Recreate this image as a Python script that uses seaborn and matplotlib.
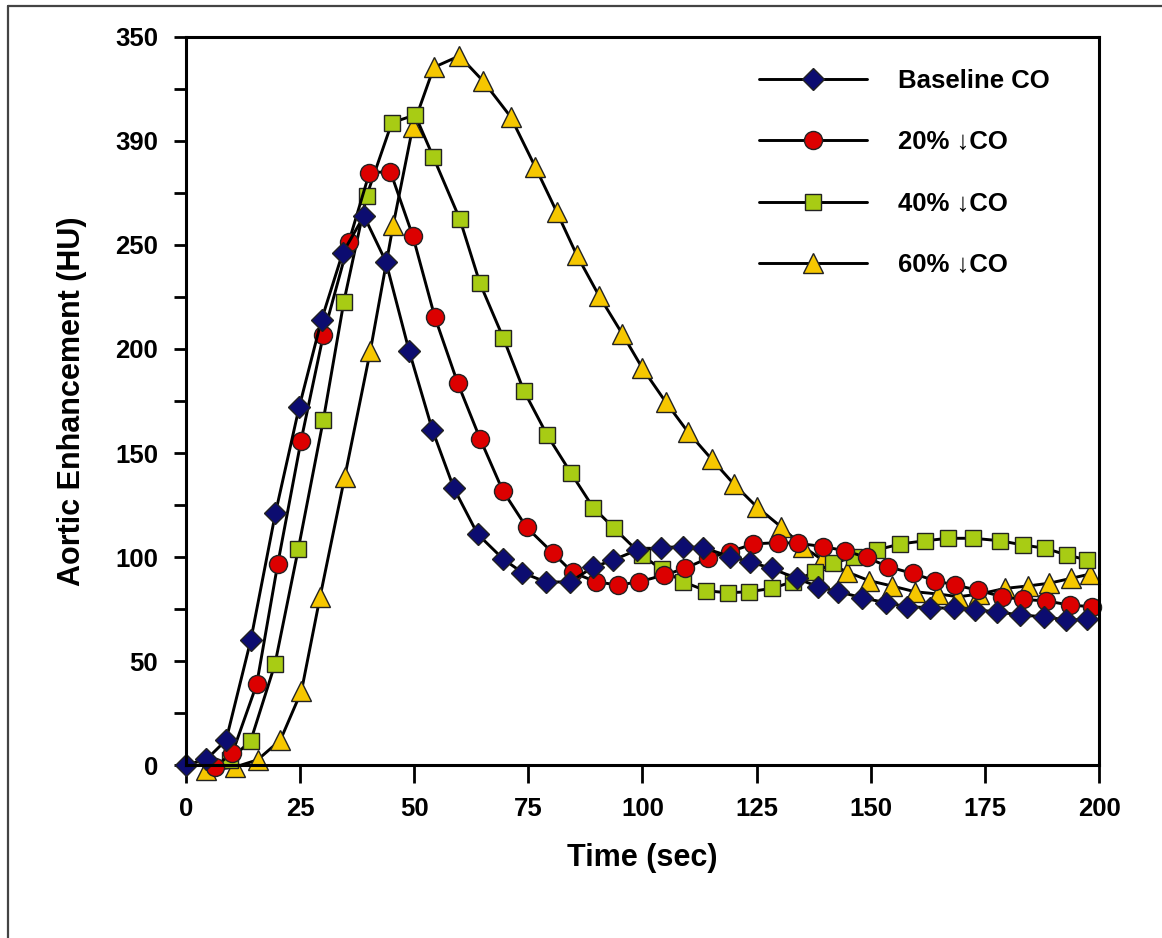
import matplotlib
matplotlib.use("Agg")
import matplotlib.pyplot as plt
from matplotlib.lines import Line2D
from matplotlib.ticker import MultipleLocator
import seaborn as sns
import pandas as pd

# values
baseline_t = [0, 4.5, 8.8, 14.2, 19.6, 24.8, 29.7, 34.3, 39.0, 43.8, 48.9, 54.0, 58.7, 63.9,
              69.5, 73.7, 78.8, 84.1, 89.1, 93.6, 98.9, 104.0, 108.8, 113.3, 119.2, 123.5,
              128.3, 133.8, 138.5, 142.9, 148.0, 153.3, 158.0, 163.0, 168.2, 172.8, 177.6,
              182.7, 188.0, 192.8, 197.4]
baseline_v = [0, 2.7, 12, 60, 121, 172, 214, 246, 264, 242, 199, 161, 133, 111, 99, 92.5,
              88, 88, 95, 98.6, 103.4, 104.5, 105, 104.5, 100.2, 97.7, 94.5, 89.7, 85.7, 83.3,
              80.5, 78, 76.1, 75.7, 75.3, 74.5, 73.7, 72.1, 71.3, 69.7, 70]

co20_t = [6.3, 10.2, 15.5, 20.1, 25.2, 30.1, 35.7, 40.2, 44.8, 49.7, 54.5, 59.5, 64.5, 69.4,
          74.6, 80.3, 84.7, 89.8, 94.7, 99.3, 104.7, 109.3, 114.3, 119.2, 124.3, 129.6, 134.1,
          139.6, 144.4, 149.1, 153.7, 159.2, 164.1, 168.5, 173.4, 178.8, 183.4, 188.4, 193.6,
          198.4]
co20_v = [-1, 5.9, 38.8, 96.5, 155.8, 206.7, 251.6, 284.8, 285.2, 254.3, 215.5, 183.8, 156.5,
          131.9, 114.3, 102.1, 92.6, 88.1, 86.5, 88.1, 91.3, 94.5, 99.4, 102.6, 106.3, 106.9,
          106.6, 105, 103, 99.8, 95.4, 92.1, 88.6, 86.5, 84.1, 80.9, 79.6, 78.9, 76.9, 76.1]

co40_t = [9.6, 14.2, 19.5, 24.6, 30.1, 34.6, 39.6, 45.1, 50.2, 54.2, 60.0, 64.4, 69.5, 74.0,
          79.1, 84.3, 89.2, 93.8, 99.8, 104.2, 108.9, 113.9, 118.7, 123.3, 128.3, 132.9, 137.8,
          141.8, 146.3, 151.3, 156.5, 161.9, 166.9, 172.5, 178.4, 183.3, 188.2, 192.9, 197.4]
co40_v = [2.4, 11.7, 48.5, 103.7, 165.9, 222.8, 273.7, 308.8, 312.5, 292.2, 262.4, 231.6, 205.4,
          180, 158.7, 140.5, 123.8, 113.8, 101, 94, 88.1, 83.8, 82.8, 83.3, 84.9, 88.1, 92.9,
          96.9, 100.2, 103.4, 106.3, 107.8, 109, 109, 107.8, 105.8, 104.2, 101, 98.6]

co60_t = [4.5, 10.7, 15.7, 20.7, 25.3, 29.4, 34.8, 40.4, 45.4, 49.7, 54.3, 59.9, 65.1, 71.1,
          76.5, 81.2, 85.6, 90.5, 95.6, 100.0, 105.1, 110.0, 115.2, 120.0, 125.0, 130.3, 135.2,
          139.4, 144.7, 149.7, 154.6, 159.7, 164.8, 169.2, 173.8, 179.4, 184.5, 189.1, 193.8,
          198.0]
co60_v = [-2.5, -1, 2.5, 12, 35.5, 81, 138.6, 199.2, 259.6, 306.9, 335.4, 340.9, 328.8, 311.7,
          287.6, 266, 245.2, 225.5, 207.2, 190.7, 174.5, 160, 146.9, 135.1, 124.2, 114.6, 105,
          98.6, 92.9, 88.6, 86.1, 83.3, 82.2, 80.9, 82.2, 84.9, 86.1, 87.4, 89.7, 91.8]

series_names = ["Baseline CO", "20% \u2193CO", "40% \u2193CO", "60% \u2193CO"]
y_ticks = [0, 50, 100, 150, 200, 250, 300, 350]
y_tick_labels = ["0", "50", "100", "150", "200", "250", "390", "350"]
x_ticks = [0, 25, 50, 75, 100, 125, 150, 175, 200]

frames = []
for name, t, v in zip(series_names, [baseline_t, co20_t, co40_t, co60_t],
                      [baseline_v, co20_v, co40_v, co60_v]):
    frames.append(pd.DataFrame({"time": t, "hu": v, "series": name}))
df = pd.concat(frames, ignore_index=True)

styles = {
    "Baseline CO": dict(marker="D", markerfacecolor="#0c0c70", markersize=11.5),
    "20% \u2193CO": dict(marker="o", markerfacecolor="#dc0000", markersize=13),
    "40% \u2193CO": dict(marker="s", markerfacecolor="#a8cc14", markersize=11.5),
    "60% \u2193CO": dict(marker="^", markerfacecolor="#f6c700", markersize=14),
}

sns.set_style("ticks")
plt.rcParams["font.family"] = ["Liberation Sans", "DejaVu Sans"]
plt.rcParams["font.weight"] = "bold"
plt.rcParams["text.color"] = "black"
plt.rcParams["axes.labelcolor"] = "black"

fig = plt.figure(figsize=(11.62, 9.38), dpi=100)
ax = fig.add_axes([0.160, 0.1844, 0.7858, 0.7762])

# draw the later curves first so the baseline sits on top
for name in series_names[::-1]:
    sub = df[df["series"] == name]
    sns.lineplot(data=sub, x="time", y="hu", ax=ax, color="black", lw=2.1,
                 markeredgecolor="#222222", markeredgewidth=1.0, clip_on=False,
                 label=name, **styles[name])

ax.set_xlim(0, 200)
ax.set_ylim(0, 350)
ax.set_xticks(x_ticks)
ax.set_yticks(y_ticks)
ax.set_yticklabels(y_tick_labels)
ax.yaxis.set_minor_locator(MultipleLocator(25))
ax.tick_params(axis="x", which="major", direction="out", length=13, width=2,
               labelsize=18.5, pad=10, colors="black")
ax.tick_params(axis="y", which="both", direction="out", length=9, width=2,
               labelsize=18.5, pad=11, colors="black")
for lab in ax.get_xticklabels() + ax.get_yticklabels():
    lab.set_fontweight("bold")
for sp in ax.spines.values():
    sp.set_visible(True)
    sp.set_linewidth(2.2)
    sp.set_color("black")

ax.set_xlabel("Time (sec)", fontsize=22, fontweight="bold", labelpad=16)
ax.set_ylabel("Aortic Enhancement (HU)", fontsize=22, fontweight="bold", labelpad=20)

handles, labels = ax.get_legend_handles_labels()
order = [labels.index(n) for n in series_names]
ax.legend([handles[i] for i in order], [labels[i] for i in order],
          loc="upper left", bbox_to_anchor=(0.6276, 0.956), frameon=False,
          handlelength=4.2, handletextpad=1.2, labelspacing=1.45,
          borderpad=0, borderaxespad=0, prop={"weight": "bold", "size": 18.5})

# outer frame of the picture (left and top edges only)
fig.add_artist(Line2D([0.0069, 0.0069], [0.0, 0.9936], color="#444444", lw=1.6,
                      transform=fig.transFigure))
fig.add_artist(Line2D([0.0069, 1.0], [0.9936, 0.9936], color="#444444", lw=1.6,
                      transform=fig.transFigure))

fig.savefig("out.png", dpi=100, facecolor="white")
